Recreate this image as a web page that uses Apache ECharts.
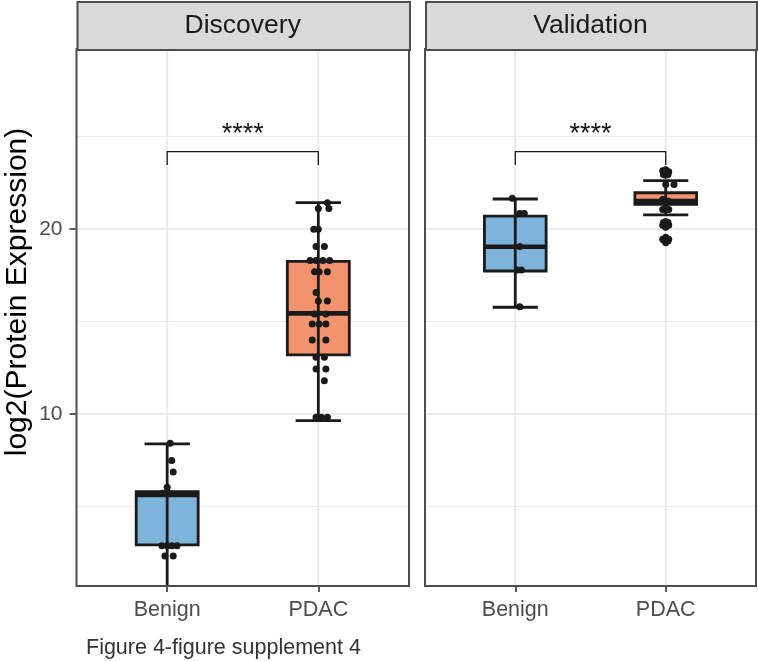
<!DOCTYPE html>
<html><head><meta charset="utf-8">
<script src="https://cdn.jsdelivr.net/npm/echarts@6/dist/echarts.min.js"></script>
<style>html,body{margin:0;padding:0;background:#fff}#c{width:758px;height:661px}</style>
</head><body><div id="c"></div>
<script>
// ---------- data ----------
const panels = ['Discovery', 'Validation'];
const categories = ['Benign', 'PDAC'];
const yTitle = 'log2(Protein Expression)';
const caption = 'Figure 4-figure supplement 4';
const yTicks = [10, 20];
const yMinorGrid = [5, 15, 25];
const yRange = [0.7, 29.73];
// box stats: [low whisker, q1, median, q3, high whisker]
const discoveryBenignBox = [0.2, 2.92, 5.62, 5.80, 8.38];
const discoveryPdacBox = [9.64, 13.19, 15.44, 18.25, 21.42];
const validationBenignBox = [15.77, 17.73, 19.04, 20.70, 21.62];
const validationPdacBox = [20.76, 21.33, 21.51, 21.96, 22.61];
// points: [jitter offset from category, value]
const discoveryBenignPts = [[0.02, 8.42], [0.03, 7.48], [0.04, 6.86], [0, 6.04], [-0.03, 5.71], [0.005, 5.71],
  [-0.035, 2.88], [0, 2.88], [0.03, 2.88], [0.065, 2.88], [-0.015, 2.32], [0.04, 2.32]];
const discoveryPdacPts = [[0.06, 21.42], [0, 21.11], [0.07, 21.11], [-0.03, 19.98], [0, 19.98], [-0.015, 19.05],
  [0.04, 19.05], [-0.055, 18.29], [-0.015, 18.29], [0.03, 18.29], [0.075, 18.29], [-0.025, 17.69], [0.005, 17.69],
  [0.06, 17.69], [-0.015, 16.56], [0, 16.11], [0.06, 16.11], [-0.025, 15.41], [0.05, 15.41], [-0.04, 14.86],
  [0.005, 14.86], [0.05, 14.86], [-0.04, 14.0], [0.05, 14.0], [-0.015, 13.06], [0.04, 13.06], [-0.015, 12.43],
  [0.05, 12.43], [0.04, 11.8], [-0.015, 9.82], [0.02, 9.82], [0.06, 9.82]];
const validationBenignPts = [[-0.02, 21.66], [0.03, 20.84], [0.06, 20.84], [0.03, 19.05], [0.015, 17.78],
  [0.04, 17.78], [0.03, 15.8]];
const validationPdacPts = [[-0.02, 23.15], [0.02, 23.1], [0, 22.9], [-0.015, 22.95], [0.015, 22.95], [0, 23.2],
  [0, 22.41], [0.055, 22.41], [-0.02, 21.6], [0.02, 21.5], [0, 21.4], [-0.02, 21.06], [0.02, 21.06],
  [-0.015, 20.35], [0.015, 20.35], [0, 20.1], [-0.02, 20.2], [0.02, 20.2], [0, 20.4],
  [0, 19.55], [0.015, 19.35], [-0.015, 19.4], [0, 19.25], [0.02, 19.45], [-0.02, 19.45]];
const sigLabels = ['****', '****'];
const bracketTop = [24.18, 24.18];
const bracketTip = [23.46, 23.46];
const labelY = [25.1, 25.1];
const fillColors = ['#7EB3DC', '#F3936D'];

// ---------- helpers ----------
const INK = '#1a1a1a';
const FONT = '"Liberation Sans", Arial, sans-serif';
function boxData(stats, catIdx) { return [catIdx + 1].concat(stats).concat([catIdx]); }
function ptsData(pts, catIdx) { return pts.map(p => [catIdx + 1 + p[0], p[1]]); }

function renderBox(params, api) {
  const x = api.value(0), lo = api.value(1), q1 = api.value(2), md = api.value(3),
        q3 = api.value(4), hi = api.value(5), ci = api.value(6);
  const cs = params.coordSys;
  const bottom = cs.y + cs.height, top = cs.y;
  const tl = api.coord([x - 0.205, q3]);
  const br = api.coord([x + 0.205, q1]);
  const mL = api.coord([x - 0.205, md]);
  const mR = api.coord([x + 0.205, md]);
  const c = api.coord([x, 0]);
  const yHi = api.coord([x, hi])[1], yLo = api.coord([x, lo])[1];
  const capW = api.coord([x + 0.15, 0])[0] - c[0];
  const ch = [
    { type: 'rect', shape: { x: tl[0], y: tl[1], width: br[0] - tl[0], height: br[1] - tl[1] },
      style: { fill: fillColors[ci], stroke: INK, lineWidth: 2.8 } },
    { type: 'line', shape: { x1: mL[0], y1: mL[1], x2: mR[0], y2: mR[1] },
      style: { stroke: INK, lineWidth: 4.6 } },
    { type: 'line', shape: { x1: c[0], y1: Math.max(yHi, top), x2: c[0], y2: Math.min(yLo, bottom) },
      style: { stroke: INK, lineWidth: 2.8 } }
  ];
  if (yHi >= top) ch.push({ type: 'line', shape: { x1: c[0] - capW, y1: yHi, x2: c[0] + capW, y2: yHi }, style: { stroke: INK, lineWidth: 2.8 } });
  if (yLo <= bottom) ch.push({ type: 'line', shape: { x1: c[0] - capW, y1: yLo, x2: c[0] + capW, y2: yLo }, style: { stroke: INK, lineWidth: 2.8 } });
  return { type: 'group', children: ch };
}

function renderGrid(params, api) {
  const cs = params.coordSys;
  const ch = [];
  yMinorGrid.forEach(v => {
    const y = api.coord([1, v])[1];
    ch.push({ type: 'line', shape: { x1: cs.x, y1: y, x2: cs.x + cs.width, y2: y }, style: { stroke: '#EDEDED', lineWidth: 1 } });
  });
  yTicks.forEach(v => {
    const y = api.coord([1, v])[1];
    ch.push({ type: 'line', shape: { x1: cs.x, y1: y, x2: cs.x + cs.width, y2: y }, style: { stroke: '#EBEBEB', lineWidth: 2 } });
  });
  [1, 2].forEach(v => {
    const x = api.coord([v, 10])[0];
    ch.push({ type: 'line', shape: { x1: x, y1: cs.y, x2: x, y2: cs.y + cs.height }, style: { stroke: '#EBEBEB', lineWidth: 2 } });
  });
  return { type: 'group', children: ch };
}

function renderFrame(params, api) {
  const cs = params.coordSys;
  return { type: 'rect', shape: { x: cs.x, y: cs.y, width: cs.width, height: cs.height },
    style: { fill: 'none', stroke: '#4D4D4D', lineWidth: 2 } };
}

function makeBracketRender(pi) {
  return function (params, api) {
    const a = api.coord([1, bracketTip[pi]]), b = api.coord([1, bracketTop[pi]]);
    const c = api.coord([2, bracketTop[pi]]), d = api.coord([2, bracketTip[pi]]);
    const t = api.coord([1.5, labelY[pi]]);
    return { type: 'group', children: [
      { type: 'polyline', shape: { points: [a, b, c, d] }, style: { fill: 'none', stroke: INK, lineWidth: 1.3 } },
      { type: 'text', x: t[0], y: t[1], style: { text: sigLabels[pi], fill: INK, font: '27px ' + FONT, align: 'center', verticalAlign: 'middle' } }
    ] };
  };
}

const allBoxes = [[discoveryBenignBox, discoveryPdacBox], [validationBenignBox, validationPdacBox]];
const allPts = [[discoveryBenignPts, discoveryPdacPts], [validationBenignPts, validationPdacPts]];

const grids = [
  { left: 76.5, top: 49, width: 332.5, height: 537 },
  { left: 425, top: 49, width: 331, height: 537 }
];

const xAxes = grids.map((g, i) => ({
  type: 'value', gridIndex: i, min: 0.4, max: 2.6,
  axisLine: { show: false },
  splitLine: { show: false },
  axisTick: { show: true, customValues: [1, 2], length: 6, lineStyle: { color: '#333', width: 1.6 } },
  axisLabel: { customValues: [1, 2], formatter: v => categories[Math.round(v) - 1], fontSize: 21.5,
    color: '#4D4D4D', margin: 13, fontFamily: FONT }
}));
const yAxes = grids.map((g, i) => ({
  type: 'value', gridIndex: i, min: yRange[0], max: yRange[1],
  axisLine: { show: false },
  splitLine: { show: false },
  axisTick: { show: i === 0, customValues: yTicks, length: 7, lineStyle: { color: '#333', width: 1.6 } },
  axisLabel: { show: i === 0, customValues: yTicks, fontSize: 21, color: '#4D4D4D', margin: 14, fontFamily: FONT }
}));

const series = [];
for (let p = 0; p < 2; p++) {
  series.push({ type: 'custom', xAxisIndex: p, yAxisIndex: p, z: 1, silent: true, data: [[1, 10]], renderItem: renderGrid });
  series.push({ type: 'custom', xAxisIndex: p, yAxisIndex: p, z: 3, clip: true, silent: true,
    data: allBoxes[p].map((s, ci) => boxData(s, ci)), renderItem: renderBox });
  series.push({ type: 'scatter', xAxisIndex: p, yAxisIndex: p, z: 5, silent: true, symbolSize: 7,
    itemStyle: { color: INK, opacity: 1 },
    data: allPts[p].flatMap((pts, ci) => ptsData(pts, ci)) });
  series.push({ type: 'custom', xAxisIndex: p, yAxisIndex: p, z: 6, silent: true, data: [[1.5, 24]], renderItem: makeBracketRender(p) });
  series.push({ type: 'custom', xAxisIndex: p, yAxisIndex: p, z: 10, silent: true, data: [[1, 10]], renderItem: renderFrame });
}

const graphic = [];
grids.forEach((g, i) => {
  graphic.push({ type: 'rect', left: g.left, top: 1, shape: { width: g.width, height: 48 },
    style: { fill: '#D9D9D9', stroke: '#4D4D4D', lineWidth: 2 }, z: 20 });
  graphic.push({ type: 'text', x: g.left + g.width / 2, y: 26,
    style: { text: panels[i], fill: '#1A1A1A', font: '26.5px ' + FONT, align: 'center', verticalAlign: 'middle' }, z: 21 });
});
graphic.push({ type: 'text', x: 18, y: 292, rotation: Math.PI / 2,
  style: { text: yTitle, fill: '#000', font: '30px ' + FONT, align: 'center', verticalAlign: 'middle' }, z: 21 });
graphic.push({ type: 'text', x: 86, y: 648,
  style: { text: caption, fill: '#333', font: '21.5px ' + FONT, align: 'left', verticalAlign: 'middle' }, z: 21 });

const chart = echarts.init(document.getElementById('c'), null, { renderer: 'canvas' });
chart.setOption({
  animation: false,
  backgroundColor: '#fff',
  grid: grids,
  xAxis: xAxes,
  yAxis: yAxes,
  series: series,
  graphic: graphic
});
</script>
</body></html>
